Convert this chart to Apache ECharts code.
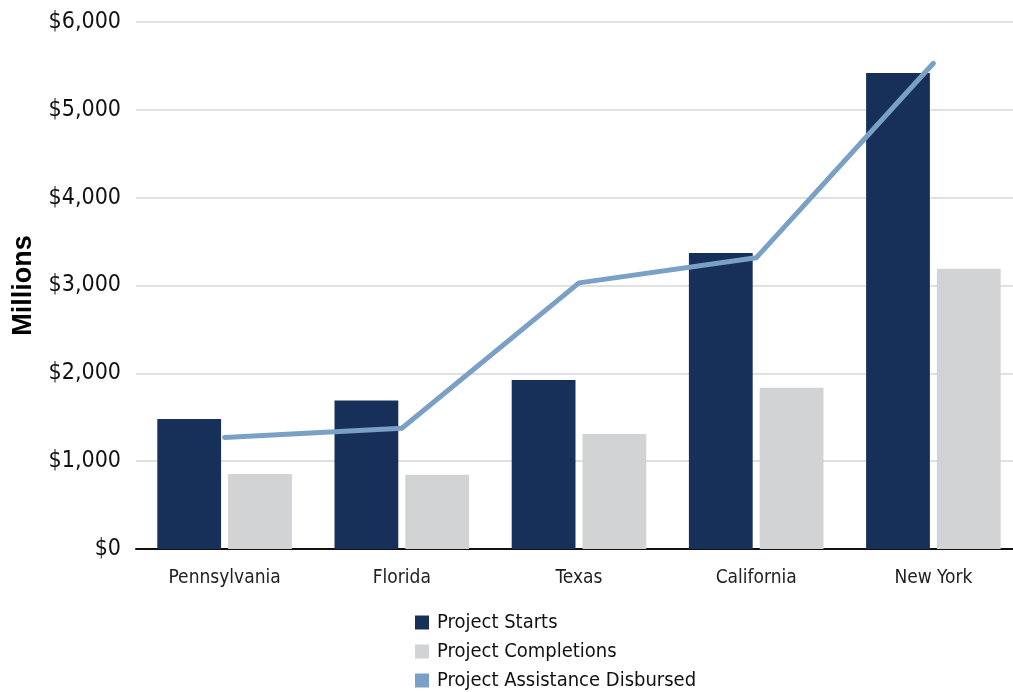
<!DOCTYPE html>
<html>
<head>
    <meta charset="utf-8">
    <title>ECharts</title>
    <script src="https://cdn.jsdelivr.net/npm/echarts@6/dist/echarts.min.js"></script>
    <style>html,body{margin:0;padding:0;background:#fff;}</style>
</head>
<body>
<div id="main" style="width: 1013px;height:692px;"></div>
<script type="text/javascript">
    var states = ['Pennsylvania', 'Florida', 'Texas', 'California', 'New York'];
    var starts = [1480, 1690, 1925, 3370, 5420];
    var completions = [855, 845, 1310, 1835, 3190];
    var disbursed = [1270, 1375, 3030, 3315, 5530];

    var font = '"Liberation Sans Narrow", "DejaVu Sans Condensed", sans-serif';
    var myChart = echarts.init(document.getElementById('main'));

    var option = {
        textStyle: {fontFamily: font},
        animation: false,
        legend: {
            orient: 'vertical',
            left: 415,
            top: 610,
            height: 90,
            padding: 0,
            itemWidth: 14,
            itemHeight: 14,
            itemGap: 4,
            textStyle: {fontFamily: font, fontSize: 20, lineHeight: 25, color: '#111', padding: [0, 0, 0, 3]},
            data: [
                {name: 'Project Starts', icon: 'rect'},
                {name: 'Project Completions', icon: 'rect'},
                {name: 'Project Assistance Disbursed', icon: 'rect'}
            ]
        },
        grid: {
            left: 136,
            width: 886,
            top: 22,
            bottom: 143,
            outerBoundsMode: 'none'
        },
        xAxis: {
            type: 'category',
            data: states,
            axisTick: {show: false},
            axisLine: {lineStyle: {color: '#111', width: 2}},
            axisLabel: {fontFamily: font, fontSize: 19, color: '#222', margin: 20}
        },
        yAxis: {
            type: 'value',
            name: 'Millions',
            nameLocation: 'middle',
            nameGap: 99,
            nameTextStyle: {fontFamily: 'Liberation Sans, Arial, sans-serif', fontSize: 27, fontWeight: 'bold', color: '#000'},
            min: 0,
            max: 6000,
            interval: 1000,
            axisLabel: {
                fontFamily: font, fontSize: 23, color: '#111', margin: 15,
                formatter: function (v) { return '$' + v.toLocaleString('en-US'); }
            },
            splitLine: {lineStyle: {color: '#d6d6d6', width: 1.5}}
        },
        series: [
            {
                name: 'Project Starts',
                type: 'bar',
                data: starts,
                barWidth: '36%',
                barGap: '11%',
                itemStyle: {color: '#17305a'}
            },
            {
                name: 'Project Completions',
                type: 'bar',
                data: completions,
                barWidth: '36%',
                itemStyle: {color: '#d1d3d5'}
            },
            {
                name: 'Project Assistance Disbursed',
                type: 'line',
                data: disbursed,
                symbol: 'none',
                itemStyle: {color: '#7aa0c6'},
                lineStyle: {color: '#7aa0c6', width: 5, cap: 'round', join: 'round'}
            }
        ]
    };

    myChart.setOption(option);
</script>
</body>
</html>
